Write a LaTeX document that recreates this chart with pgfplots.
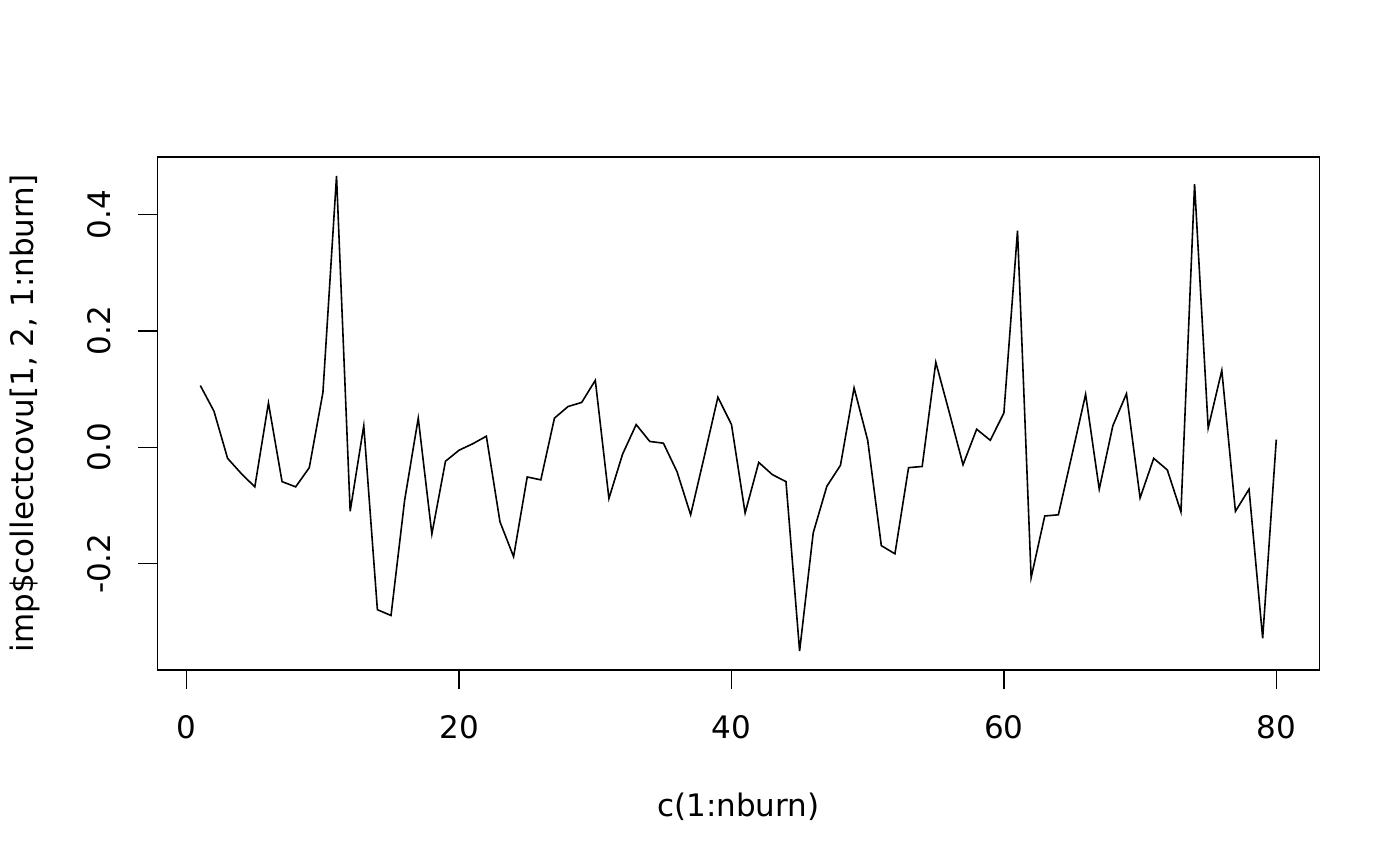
\documentclass[border=0pt]{standalone}
\usepackage{fontspec}
\setmainfont{DejaVu Sans}
\usepackage{pgfplots}
\pgfplotsset{compat=1.18}

\begin{document}
\fontsize{15.5}{18}\selectfont
\begin{tikzpicture}
\begin{axis}[
    scale only axis,
    width=581pt, height=256.5pt,
    xmin=-2.16, xmax=83.16,
    ymin=-0.3826, ymax=0.4986,
    axis line style={line width=0.75pt},
    tick style={line width=0.75pt, black},
    tick align=outside,
    major tick length=9.5pt,
    xtick pos=bottom, ytick pos=left,
    xtick={0,20,40,60,80},
    ytick={-0.2,0,0.2,0.4},
    yticklabels={-0.2,0.0,0.2,0.4},
    /pgf/number format/assume math mode=true,
    xticklabel style={anchor=base, inner sep=0pt},
    yticklabel style={rotate=90, anchor=base, inner sep=0pt},
    xticklabel shift=24.65pt,
    yticklabel shift=13.85pt,
    xlabel={c(1:nburn)},
    ylabel={imp\$collectcovu[1, 2, 1:nburn]},
    xlabel style={at={(axis description cs:0.5,-0.2858)}, anchor=base, inner sep=0pt},
    ylabel style={at={(axis description cs:-0.10671,0.5)}, anchor=base, rotate=0, inner sep=0pt},
]
\addplot[black, line width=0.8pt, mark=none] coordinates {
(1,0.106) (2,0.062) (3,-0.019) (4,-0.045) (5,-0.068)
(6,0.076) (7,-0.059) (8,-0.068) (9,-0.035) (10,0.094)
(11,0.466) (12,-0.110) (13,0.037) (14,-0.279) (15,-0.289)
(16,-0.091) (17,0.050) (18,-0.149) (19,-0.024) (20,-0.005)
(21,0.006) (22,0.019) (23,-0.128) (24,-0.188) (25,-0.051)
(26,-0.056) (27,0.050) (28,0.070) (29,0.077) (30,0.115)
(31,-0.088) (32,-0.012) (33,0.039) (34,0.010) (35,0.007)
(36,-0.042) (37,-0.116) (38,-0.016) (39,0.086) (40,0.039)
(41,-0.113) (42,-0.026) (43,-0.047) (44,-0.059) (45,-0.350)
(46,-0.147) (47,-0.067) (48,-0.031) (49,0.102) (50,0.012)
(51,-0.169) (52,-0.183) (53,-0.035) (54,-0.033) (55,0.146)
(56,0.059) (57,-0.030) (58,0.031) (59,0.012) (60,0.059)
(61,0.372) (62,-0.224) (63,-0.118) (64,-0.116) (65,-0.013)
(66,0.091) (67,-0.072) (68,0.037) (69,0.092) (70,-0.087)
(71,-0.019) (72,-0.039) (73,-0.111) (74,0.452) (75,0.033)
(76,0.132) (77,-0.110) (78,-0.072) (79,-0.328) (80,0.013)
};
\end{axis}
\pgfresetboundingbox
\path[use as bounding box] (-78.65pt,-98pt) rectangle (621.35pt,335pt);
\end{tikzpicture}
\end{document}
